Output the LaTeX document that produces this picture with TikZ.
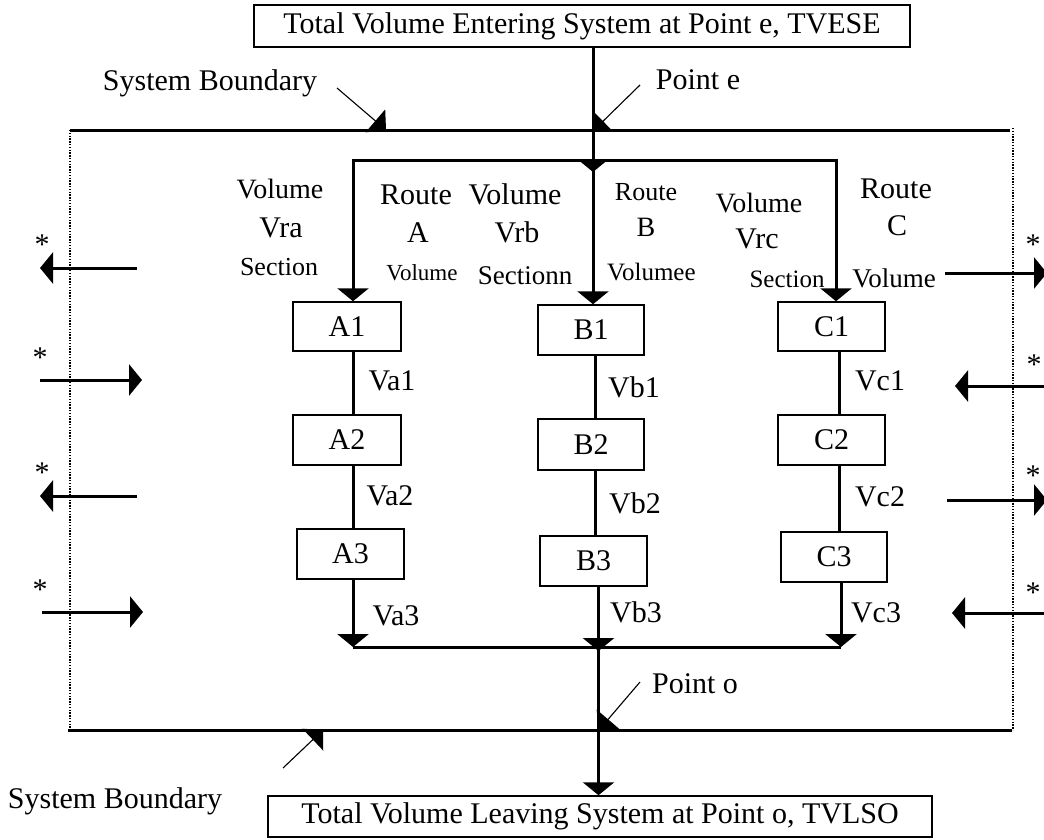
\documentclass[tikz,border=0pt]{standalone}
\usepackage{fontspec}
\setmainfont{Liberation Serif}
\usetikzlibrary{arrows.meta}
\newcommand{\fsz}[1]{\fontsize{#1}{#1}\selectfont}
\begin{document}
\begin{tikzpicture}[x=1pt,y=-1pt,
  every node/.style={inner sep=0pt, font=\fsz{30}},
  box/.style={draw, line width=1.5pt, minimum width=107pt, minimum height=49pt},
  bigbox/.style={draw, line width=1.5pt, minimum height=42pt},
  conn/.style={line width=3pt},
  head/.style={-{Triangle[length=13pt,width=31pt]}},
  ptr/.style={line width=1.1pt, -{Triangle[length=14pt,width=30pt]}},
  bound/.style={line width=3pt},
  dots/.style={line width=1.4pt, dash pattern=on 1.4pt off 1.4pt},
  lbl/.style={anchor=base},
  star/.style={anchor=base, font=\fsz{30}},
]
\useasboundingbox (0,0) rectangle (1044,839);
\clip (0,0) rectangle (1044,839);

% system boundary
\draw[bound] (70,130) -- (1010,130);
\draw[bound] (68,730) -- (1012,730);
\draw[dots] (70,130) -- (70,730);
\draw[dots] (1013,128) -- (1013,730);

% big boxes
\node[bigbox, minimum width=656pt] (top) at (582,26) {Total Volume Entering System at Point e, TVESE};
\node[bigbox, minimum width=664pt, minimum height=41pt] (bot) at (600,816.5) {Total Volume Leaving System at Point o, TVLSO};

% section boxes
\node[box, minimum width=108pt] (A1) at (347,326.5) {A1};
\node[box, minimum width=108pt, minimum height=50pt] (A2) at (347,440) {A2};
\node[box, minimum height=50pt] (A3) at (350.5,554) {A3};
\node[box, minimum width=106pt, minimum height=50pt] (B1) at (591,330) {B1};
\node[box, minimum width=106pt, minimum height=51pt] (B2) at (591,444.5) {B2};
\node[box, minimum height=50pt] (B3) at (593.5,561) {B3};
\node[box, minimum height=49pt] (C1) at (831.5,326.5) {C1};
\node[box, minimum height=50pt] (C2) at (831.5,440) {C2};
\node[box, minimum width=106pt, minimum height=50pt] (C3) at (834,557) {C3};

% entry distribution
\coordinate (J) at (593,160);
\coordinate (Jt) at (593,172);
\draw[conn,head] (top.south -| J) -- (Jt);
\draw[conn,head] (J) -| ([xshift=6pt]A1.north);
\draw[conn,head] (J) -| ([xshift=4.5pt]C1.north);
\draw[conn,head] (J) -- (B1.north -| J);

% column connectors
\draw[conn] ([xshift=6pt]A1.south) -- ([xshift=6pt]A2.north);
\draw[conn] ([xshift=6pt]A2.south) -- ([xshift=2.5pt]A3.north);
\draw[conn] ([xshift=4pt]B1.south) -- ([xshift=4pt]B2.north);
\draw[conn] ([xshift=4pt]B2.south) -- ([xshift=1.5pt]B3.north);
\draw[conn] ([xshift=7.5pt]C1.south) -- ([xshift=7.5pt]C2.north);
\draw[conn] ([xshift=7.5pt]C2.south) -- ([xshift=5pt]C3.north);

% collection
\coordinate (Ka) at (353,647);
\coordinate (Kb) at (598.5,647);
\coordinate (Kc) at (841,647);
\draw[conn] (Ka) -- (Kc);
\draw[conn,head] ([xshift=2.5pt]A3.south) -- (Ka);
\draw[conn,head] ([xshift=5pt]B3.south) -- ([yshift=-4pt]Kb);
\draw[conn,head] ([xshift=7pt]C3.south) -- (Kc);
\draw[conn,head] (Kb) -- (bot.north -| Kb);

% flow labels
\node[lbl] (va1) at (392,390) {Va1};
\node[lbl] (va2) at (390,505) {Va2};
\node[lbl] (va3) at (396,625) {Va3};
\node[lbl] (vb1) at (634,397) {Vb1};
\node[lbl] (vb2) at (635,513) {Vb2};
\node[lbl] (vb3) at (636,622) {Vb3};
\node[lbl] (vc1) at (880,390) {Vc1};
\node[lbl] (vc2) at (880,506) {Vc2};
\node[lbl] (vc3) at (876,622) {Vc3};

% route labels
\node[lbl, font=\fsz{28}] (t1) at (280,198) {Volume};
\node[lbl] (t2) at (281,237) {Vra};
\node[lbl, font=\fsz{26}] (t3) at (279,275) {Section};
\node[lbl] (t4) at (416,204) {Route};
\node[lbl] (t5) at (418,242) {A};
\node[lbl, font=\fsz{23}] (t6) at (422,280) {Volume};
\node[lbl] (t7) at (515,204) {Volume};
\node[lbl] (t8) at (517,242) {Vrb};
\node[lbl, font=\fsz{27}] (t9) at (525,284) {Sectionn};
\node[lbl, font=\fsz{26}] (t10) at (646,200) {Route};
\node[lbl, font=\fsz{28}] (t11) at (646,236) {B};
\node[anchor=base west, font=\fsz{25}] (t12) at (607,280) {Volumee};
\node[lbl, font=\fsz{28}] (t13) at (759,212) {Volume};
\node[lbl] (t14) at (757,248) {Vrc};
\node[lbl] (t15) at (896,198) {Route};
\node[lbl] (t16) at (897,235) {C};
\node[lbl, font=\fsz{25}] (t17) at (787,287) {Section};
\node[lbl, font=\fsz{27}] (t18) at (894,287) {Volume};

% boundary / point labels
\node[lbl] (sb1) at (210,90) {System Boundary};
\node[lbl] (sb2) at (115,808) {System Boundary};
\node[lbl] (pe) at (698,89) {Point e};
\node[lbl] (po) at (695,693) {Point o};
\coordinate (sb1a) at (337,88);  \coordinate (sb1b) at (386,130);
\coordinate (sb2a) at (283,768); \coordinate (sb2b) at (323,730);
\coordinate (pea) at (640,85);   \coordinate (peb) at (593,131);
\coordinate (poa) at (640,682);  \coordinate (pob) at (599,730);
\draw[ptr] (sb1a) -- (sb1b);
\draw[ptr] (sb2a) -- (sb2b);
\draw[ptr] (pea) -- (peb);
\draw[ptr] (poa) -- (pob);

% side exchange arrows
\coordinate (L1a) at (137,268); \coordinate (L1b) at (40,268);
\coordinate (L2a) at (40,380);  \coordinate (L2b) at (142,380);
\coordinate (L3a) at (137,496); \coordinate (L3b) at (40,496);
\coordinate (L4a) at (42,612);  \coordinate (L4b) at (143,612);
\coordinate (R1a) at (945,273); \coordinate (R1b) at (1047,273);
\coordinate (R2a) at (1052,386); \coordinate (R2b) at (955,386);
\coordinate (R3a) at (947,500); \coordinate (R3b) at (1047,500);
\coordinate (R4a) at (1052,613); \coordinate (R4b) at (952,613);
\foreach \a/\b in {L1a/L1b,L2a/L2b,L3a/L3b,L4a/L4b,R1a/R1b,R2a/R2b,R3a/R3b,R4a/R4b}
  \draw[conn,head] (\a) -- (\b);

\node[star] (s1) at (42,254) {*};
\node[star] (s2) at (40,367) {*};
\node[star] (s3) at (42,482) {*};
\node[star] (s4) at (40,599) {*};
\node[star] (s5) at (1033,254) {*};
\node[star] (s6) at (1034,374) {*};
\node[star] (s7) at (1033,485) {*};
\node[star] (s8) at (1033,602) {*};
\end{tikzpicture}
\end{document}
